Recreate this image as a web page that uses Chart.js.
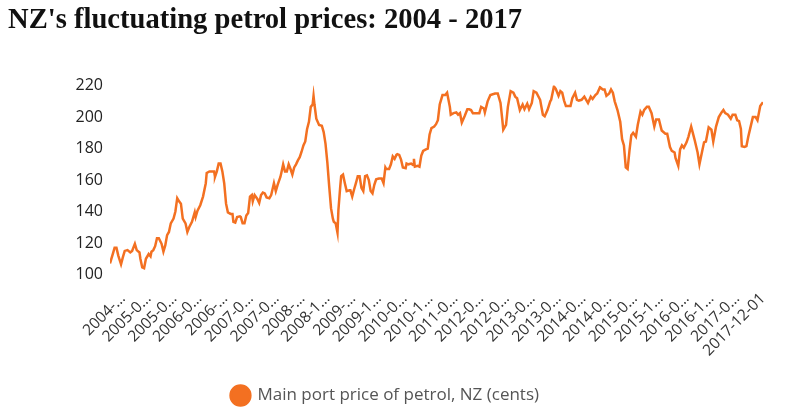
<!DOCTYPE html>
<html><head><meta charset="utf-8">
<script src="https://cdn.jsdelivr.net/npm/chart.js@4/dist/chart.umd.min.js"></script>
<style>html,body{margin:0;padding:0;background:#fff;}#wrap{width:793px;height:409px;}</style>
</head><body><div id="wrap"><canvas id="c" width="793" height="409"></canvas></div>
<script>
// weeks since 2004-04-30 (weekly Friday series, last = 2017-12-01)
const startDate = '2004-04-30';
const weeks = [
0,3,5,7,9,12,14,16,19,22,
24,27,29,32,33,35,37,39,42,44,
45,47,49,51,53,56,58,60,62,64,
66,69,71,73,75,77,79,82,84,86,
89,92,93,95,98,101,104,105,108,113,
114,116,118,120,122,124,126,128,131,133,
134,136,138,141,142,144,146,148,150,152,
154,155,157,160,162,164,166,168,170,173,
175,178,180,182,185,186,188,190,192,194,
196,198,200,202,204,206,208,210,212,214,
216,218,220,221,222,224,227,230,232,234,
236,238,240,242,243,245,247,248,250,251,
253,255,257,260,261,263,265,267,269,271,
273,275,277,279,281,283,285,287,289,292,
295,297,299,300,303,305,307,309,311,312,
314,316,318,321,322,324,327,329,330,331,
334,336,338,340,343,345,347,349,352,354,
356,358,361,364,366,369,370,373,376,378,
380,382,385,388,390,392,394,398,401,403,
406,407,410,413,418,421,424,426,427,430,
432,435,438,440,442,445,448,450,453,455,
458,460,463,467,470,472,475,478,479,482,
484,487,489,491,493,495,497,500,502,505,
507,509,512,515,517,519,522,524,527,529,
532,535,537,539,542,544,546,548,551,554,
556,558,560,562,564,566,568,571,573,576,
578,580,583,585,588,591,593,596,599,603,
605,608,610,613,614,617,619,621,623,626,
628,631,633,635,638,640,643,645,647,650,
653,655,658,661,664,666,668,671,674,676,
679,681,683,685,686,689,691,693,695,698,
701,703,706,709
];
// Main port price of petrol, NZ (cents)
const prices = [
107,113,117,117,112,106.5,111,115,115.5,114,
115,119.5,115.5,114,110,104.5,104,110,113,111.5,
114.5,115.5,118,123,123,119.5,114.5,118.5,125,127,
132.5,135.5,140,148.5,146.5,145,135.5,132.5,127,130,
133.5,139.5,136.5,140.5,144,149.5,158,164.5,165.5,165.5,
162,165.5,170.5,170.5,165.5,158,145,139.5,138.5,138.5,
133.5,133,136.5,137,136.5,132.5,132.5,137.5,139,149.5,
150.5,146.5,150.5,148,145.5,150.5,152,151.5,149,148.5,
150.5,158,153,157,162,164.5,170,165.5,165.5,170,
167,163.5,168,170,172.5,174.5,178,182,184.5,192.5,
197,206.5,208,213.5,208,199,195,194.5,190.5,183,
171,156,142,135.5,133.5,132.5,126.5,141,156,162.5,
163.5,158,153,153.5,153.5,149.5,154,158,162.5,162.5,
155,153,162.5,163,160,153,151.5,157,160.5,161,
161,158,168,167,167,170,175,173.5,176,176.5,
176,173,168,167.5,170.5,170,170.5,169.5,173.5,168.5,
169,168.5,175.5,178.5,179.5,180,189,193,194,195.5,
198,208,214,214,215.5,206.5,201.5,202.5,203,201.5,
202.5,196.5,200.5,205,205,204.5,202.5,202.5,202.5,206.5,
205.5,203,210,214,215,215,209,198,192,195,
206.5,216.5,215.5,213,212,204.5,208,205,208.5,205,
209,216.5,215.5,211,201.5,200.5,204.5,210,211,219.5,
218,213.5,216.5,215.5,210.5,207,207,207,212,215.5,
211,210.5,211,213,211,209,213,211.5,214,215,
219,217.5,217.5,213.5,215,217.5,215.5,210,204.5,197,
186,182,168,167,178.5,188.5,190,187.5,195,203.5,
201.5,204.5,206.5,206.5,202.5,194,198.5,198.5,191.5,189.5,
189.5,181,178.5,177.5,174,169,179.5,182,180.5,184,
187.5,194,189.5,185,177.5,170,178.5,184,184.5,193.5,
192,184.5,194,200,203,204.5,202.5,201.5,199,201.5,
201.5,198,197.5,192.5,181.5,181,181.5,187.5,192.5,200,
200,198,207,209.5
];
const tickWeeks = [14,42,70,97,125,153,181,209,236,264,292,320,348,375,403,431,459,487,514,542,570,598,626,653,681,709];
const tickText = ['2004-…','2005-0…','2005-0…','2006-0…','2006-…','2007-0…','2007-0…','2008-…','2008-1…','2009-…','2009-1…','2010-0…','2010-1…','2011-0…','2012-0…','2012-0…','2013-0…','2013-0…','2014-0…','2014-0…','2015-0…','2015-1…','2016-0…','2016-1…','2017-0…','2017-12-01'];
const yTicks = [100,120,140,160,180,200,220];
const seriesName = 'Main port price of petrol, NZ (cents)';
const titleText = "NZ's fluctuating petrol prices: 2004 - 2017";
const ORANGE = '#f37021';

new Chart(document.getElementById('c'), {
  type: 'line',
  data: {
    datasets: [{
      label: seriesName,
      data: weeks.map((w, i) => ({x: w, y: prices[i]})),
      borderColor: ORANGE,
      backgroundColor: ORANGE,
      borderWidth: 2.5,
      pointRadius: 0,
      tension: 0,
      fill: false
    }]
  },
  options: {
    responsive: false,
    devicePixelRatio: 1,
    animation: false,
    layout: {padding: {left: 8, right: 30, top: 0, bottom: -5}},
    plugins: {
      title: {
        display: true, text: titleText, align: 'start', color: '#111',
        font: {family: 'Liberation Serif', size: 28.6, weight: 'bold'},
        padding: {top: 3, bottom: 48.3}
      },
      legend: {
        position: 'bottom',
        labels: {usePointStyle: true, pointStyle: 'circle', boxHeight: 14, color: '#555',
          font: {family: 'Open Sans', size: 17}, padding: 5}
      },
      tooltip: {enabled: false}
    },
    scales: {
      x: {
        type: 'linear', min: 0, max: 709,
        grid: {display: false, drawTicks: false}, border: {display: false},
        afterBuildTicks: (s) => { s.ticks = tickWeeks.map(v => ({value: v})); },
        afterFit: (s) => { s.height = 107.5; },
        ticks: {autoSkip: false, minRotation: 45, maxRotation: 45, padding: 15, color: '#333',
          font: {family: 'Open Sans', size: 15.5}, callback: (v, i) => tickText[i]}
      },
      y: {
        min: 100, max: 220,
        grid: {display: false, drawTicks: false}, border: {display: false},
        afterBuildTicks: (s) => { s.ticks = yTicks.map(v => ({value: v})); },
        afterFit: (s) => { s.width = 102; },
        ticks: {padding: 7, color: '#222', font: {family: 'Open Sans', size: 16}}
      }
    }
  }
});
</script>
</body></html>
